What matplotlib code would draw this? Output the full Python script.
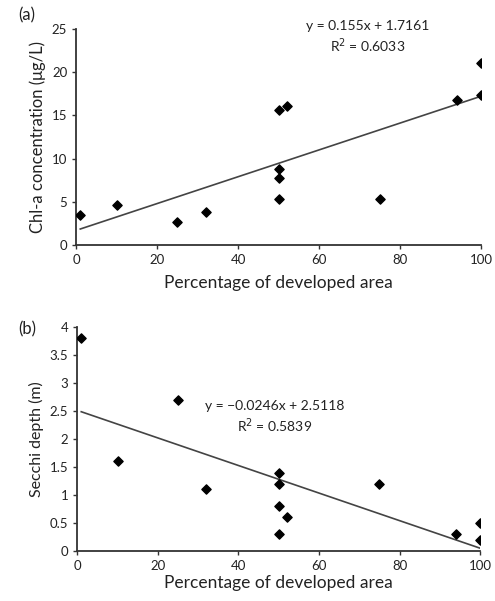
import numpy as np
import matplotlib.pyplot as plt

plt.rcParams['font.family'] = ['Lato', 'DejaVu Sans']

# panel (a): chl-a vs developed area
dev_a = [1, 10, 25, 32, 50, 52, 50, 50, 50, 75, 94, 100, 100]
chla = [3.5, 4.7, 2.7, 3.8, 15.6, 16.1, 8.8, 7.8, 5.3, 5.3, 16.8, 21.0, 17.3]
slope_a, icpt_a = 0.155, 1.7161

# panel (b): secchi depth vs developed area
dev_b = [1, 10, 25, 32, 50, 50, 50, 52, 50, 75, 94, 100, 100]
secchi = [3.8, 1.6, 2.7, 1.1, 1.4, 1.2, 0.8, 0.6, 0.3, 1.2, 0.3, 0.5, 0.2]
slope_b, icpt_b = -0.0246, 2.5118

xticks = [0, 20, 40, 60, 80, 100]
yticks_a = [0, 5, 10, 15, 20, 25]
yticks_b = [0, 0.5, 1, 1.5, 2, 2.5, 3, 3.5, 4]
ytick_lbl_b = ['0', '0.5', '1', '1.5', '2', '2.5', '3', '3.5', '4']

fig = plt.figure(figsize=(4.95, 6.01), dpi=100)
ax1 = fig.add_axes([0.154, 0.592, 0.818, 0.360])
ax2 = fig.add_axes([0.156, 0.083, 0.814, 0.373])

txt = '#222222'


def style(ax):
    for s in ['top', 'right']:
        ax.spines[s].set_visible(False)
    for s in ['left', 'bottom']:
        ax.spines[s].set_color('#333333')
        ax.spines[s].set_linewidth(1.3)
    ax.tick_params(direction='out', length=3, width=1, colors='#333333',
                   labelsize=9.5, labelcolor=txt)
    ax.set_xlim(0, 100)
    ax.set_xticks(xticks)


def trend(ax, x, m, b):
    xs = np.array([min(x), max(x)])
    ax.plot(xs, m * xs + b, color='#444444', lw=1.2)


style(ax1)
ax1.scatter(dev_a, chla, marker='D', s=22, color='black', zorder=3)
trend(ax1, dev_a, slope_a, icpt_a)
ax1.set_ylim(0, 25)
ax1.set_yticks(yticks_a)
ax1.set_xlabel('Percentage of developed area', fontsize=12.5, color=txt, labelpad=6)
ax1.set_ylabel('Chl-a concentration (μg/L)', fontsize=12, color=txt)
ax1.text(0.72, 0.96, 'y = 0.155x + 1.7161\nR$^2$ = 0.6033', transform=ax1.transAxes,
         ha='center', va='center', fontsize=10, color=txt, linespacing=1.3)
fig.text(0.037, 0.975, '(a)', fontsize=12, color=txt, va='center')

style(ax2)
ax2.scatter(dev_b, secchi, marker='D', s=22, color='black', zorder=3)
trend(ax2, dev_b, slope_b, icpt_b)
ax2.set_ylim(0, 4)
ax2.set_yticks(yticks_b)
ax2.set_yticklabels(ytick_lbl_b)
ax2.set_xlabel('Percentage of developed area', fontsize=12.5, color=txt, labelpad=2)
ax2.set_ylabel('Secchi depth (m)', fontsize=11.5, color=txt)
ax2.text(0.49, 0.595, 'y = \u22120.0246x + 2.5118\nR$^2$ = 0.5839', transform=ax2.transAxes,
         ha='center', va='center', fontsize=10, color=txt, linespacing=1.3)
fig.text(0.037, 0.452, '(b)', fontsize=12, color=txt, va='center')

fig.savefig('out.png', dpi=100)
